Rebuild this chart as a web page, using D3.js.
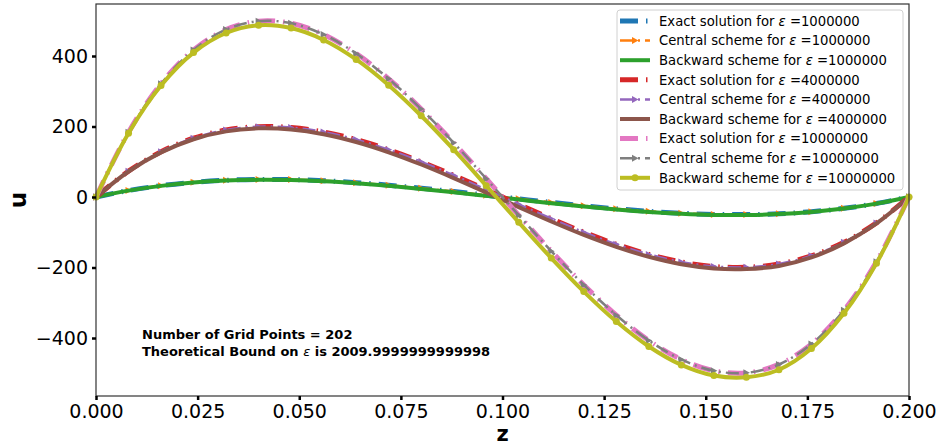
<!DOCTYPE html>
<html>
<head>
<meta charset="utf-8">
<script src="https://cdn.jsdelivr.net/npm/d3@7"></script>
<style>
  body { margin: 0; background: #fff; }
  svg { display: block; font-family: "DejaVu Sans", sans-serif; }
</style>
</head>
<body>
<svg id="chart" width="941" height="445"></svg>
<script>
// ---- data ----
const zGrid = [0, 0.008, 0.016, 0.024, 0.032, 0.040, 0.048, 0.056, 0.064, 0.072, 0.080, 0.088, 0.096,
               0.104, 0.112, 0.120, 0.128, 0.136, 0.144, 0.152, 0.160, 0.168, 0.176, 0.184, 0.192, 0.200];

const exact1e6 = [0, 18.4, 32.1, 41.7, 47.5, 49.9, 49.3, 46.1, 40.7, 33.5, 24.9, 15.4, 5.2,
                  -5.2, -15.4, -24.9, -33.5, -40.7, -46.1, -49.3, -49.9, -47.5, -41.7, -32.1, -18.4, 0];
const central1e6 = [0, 18.4, 32.1, 41.7, 47.5, 49.9, 49.3, 46.1, 40.7, 33.5, 24.9, 15.4, 5.2,
                    -5.2, -15.4, -24.9, -33.5, -40.7, -46.1, -49.3, -49.9, -47.5, -41.7, -32.1, -18.4, 0];
const backward1e6 = [0, 18.1, 31.6, 41.0, 46.5, 48.7, 47.9, 44.6, 39.0, 31.7, 23.0, 13.4, 3.2,
                     -7.2, -17.4, -26.8, -35.3, -42.4, -47.6, -50.7, -51.1, -48.5, -42.4, -32.6, -18.7, 0];

const exact4e6 = [0, 73.4, 128.5, 166.8, 190.0, 199.5, 197.1, 184.4, 162.8, 134.1, 99.8, 61.5, 20.8,
                  -20.8, -61.5, -99.8, -134.1, -162.8, -184.4, -197.1, -199.5, -190.0, -166.8, -128.5, -73.4, 0];
const central4e6 = [0, 73.4, 128.5, 166.8, 190.0, 199.5, 197.1, 184.4, 162.8, 134.1, 99.8, 61.5, 20.8,
                    -20.8, -61.5, -99.8, -134.1, -162.8, -184.4, -197.1, -199.5, -190.0, -166.8, -128.5, -73.4, 0];
const backward4e6 = [0, 72.4, 126.5, 163.9, 186.1, 194.8, 191.6, 178.2, 156.0, 126.9, 92.2, 53.6, 12.8,
                     -28.8, -69.4, -107.4, -141.3, -169.6, -190.6, -202.6, -204.2, -195.5, -171.5, -131.5, -75.0, 0];

const exact1e7 = [0, 183.6, 321.3, 417.0, 474.9, 498.9, 492.9, 460.9, 407.1, 335.2, 249.4, 153.7, 51.9,
                  -51.9, -153.7, -249.4, -335.2, -407.1, -460.9, -492.9, -498.9, -474.9, -417.0, -321.3, -183.6, 0];
const central1e7 = [0, 183.6, 321.3, 417.0, 474.9, 498.9, 492.9, 460.9, 407.1, 335.2, 249.4, 153.7, 51.9,
                    -51.9, -153.7, -249.4, -335.2, -407.1, -460.9, -492.9, -498.9, -474.9, -417.0, -321.3, -183.6, 0];
const backward1e7 = [0, 181.1, 316.3, 409.6, 465.3, 487.1, 479.2, 445.5, 390.2, 317.1, 230.4, 134.1, 31.9,
                     -71.9, -173.3, -268.4, -353.3, -424.0, -476.3, -506.6, -511.5, -490.0, -430.0, -330.0, -188.0, 0];

const epsilons = ["1000000", "4000000", "10000000"];
const xTicks = [0, 0.025, 0.05, 0.075, 0.1, 0.125, 0.15, 0.175, 0.2];
const yTicks = [-400, -200, 0, 200, 400];
const annotationLines = ["Number of Grid Points = 202", "Theoretical Bound on ", " is 2009.9999999999998"];

// ---- series table ----
const palette = ["#1f77b4", "#ff7f0e", "#2ca02c", "#d62728", "#9467bd", "#8c564b", "#e377c2", "#7f7f7f", "#bcbd22"];
const groups = [[exact1e6, central1e6, backward1e6], [exact4e6, central4e6, backward4e6], [exact1e7, central1e7, backward1e7]];
const kinds = ["exact", "central", "backward"];
const kindLabel = { exact: "Exact solution for ", central: "Central scheme for ", backward: "Backward scheme for " };
const series = [];
groups.forEach((g, gi) => g.forEach((vals, ki) => {
  series.push({ kind: kinds[ki], eps: epsilons[gi], values: vals, color: palette[gi * 3 + ki],
                dots: (ki === 2 && gi === 2) });
}));

// ---- layout ----
const svg = d3.select("#chart");
const L = 96, R = 909, T = 4, B = 396;
const x = d3.scaleLinear().domain([0, 0.2]).range([L, R]);
const y = d3.scaleLinear().domain([-564.5, 547.5]).range([B, T]);

const styles = {
  exact:    { w: 5,   dash: "18,8,1.5,8" },
  central:  { w: 2.5, dash: "13,5,2,5" },
  backward: { w: 4,   dash: null }
};

const line = d3.line().x((d, i) => x(zGrid[i])).y(d => y(d)).curve(d3.curveCatmullRom.alpha(0.5));
const plot = svg.append("g");
const triPath = "M-3,-3.5 L3.5,0 L-3,3.5 Z";

series.forEach(s => {
  const st = styles[s.kind];
  plot.append("path").attr("d", line(s.values)).attr("fill", "none")
    .attr("stroke", s.color).attr("stroke-width", st.w)
    .attr("stroke-dasharray", st.dash).attr("stroke-linejoin", "round");
  if (s.kind === "central") {
    plot.selectAll(null).data(s.values).enter().append("path")
      .attr("d", triPath).attr("fill", s.color)
      .attr("transform", (d, i) => `translate(${x(zGrid[i])},${y(d)})`);
  }
  if (s.dots) {
    plot.selectAll(null).data(s.values).enter().append("circle")
      .attr("cx", (d, i) => x(zGrid[i])).attr("cy", d => y(d)).attr("r", 3.5).attr("fill", s.color);
  }
});

// ---- axes frame ----
svg.append("rect").attr("x", L).attr("y", T).attr("width", R - L).attr("height", B - T)
  .attr("fill", "none").attr("stroke", "#333").attr("stroke-width", 1.2);

const xAxis = svg.append("g").attr("transform", `translate(0,${B})`)
  .call(d3.axisBottom(x).tickValues(xTicks).tickFormat(d3.format(".3f")).tickSize(4).tickPadding(5));
const yAxis = svg.append("g").attr("transform", `translate(${L},0)`)
  .call(d3.axisLeft(y).tickValues(yTicks).tickFormat(d => d < 0 ? "\u2212" + Math.abs(d) : d).tickSize(4).tickPadding(4));
[xAxis, yAxis].forEach(a => {
  a.select(".domain").remove();
  a.selectAll(".tick line").attr("stroke", "#000").attr("stroke-width", 2.5);
  a.selectAll(".tick text").attr("font-family", "DejaVu Sans").attr("font-size", 19).attr("fill", "#000");
});

svg.append("text").attr("x", x(0.1)).attr("y", 441).attr("text-anchor", "middle")
  .attr("font-size", 21).attr("font-weight", "bold").text("z");
svg.append("text").attr("transform", "translate(26,200) rotate(-90)").attr("text-anchor", "middle")
  .attr("font-size", 23).attr("font-weight", "bold").text("u");

// ---- annotation ----
const ann = svg.append("g").attr("font-size", 13).attr("font-weight", "bold");
ann.append("text").attr("x", 142).attr("y", 338.5).text(annotationLines[0]);
const t2 = ann.append("text").attr("x", 142).attr("y", 356);
t2.append("tspan").text(annotationLines[1]);
t2.append("tspan").attr("font-style", "italic").attr("font-weight", "normal").text("\u03b5");
t2.append("tspan").text(annotationLines[2]);

// ---- legend ----
const leg = svg.append("g");
leg.append("rect").attr("x", 617).attr("y", 10).attr("width", 286).attr("height", 180).attr("rx", 3)
  .attr("fill", "#fff").attr("fill-opacity", 0.8).attr("stroke", "#d0d0d0").attr("stroke-width", 1);
series.forEach((s, i) => {
  const cy = 21 + i * 19.6;
  const st = styles[s.kind];
  leg.append("line").attr("x1", 620).attr("x2", 650).attr("y1", cy).attr("y2", cy)
    .attr("stroke", s.color).attr("stroke-width", st.w).attr("stroke-dasharray", st.dash);
  if (s.kind === "central") {
    leg.append("path").attr("d", triPath).attr("fill", s.color).attr("transform", `translate(635,${cy})`);
  }
  if (s.dots) {
    leg.append("circle").attr("cx", 635).attr("cy", cy).attr("r", 3.5).attr("fill", s.color);
  }
  const t = leg.append("text").attr("x", 659).attr("y", cy + 4.7).attr("font-size", 13.2).attr("fill", "#000");
  t.append("tspan").text(kindLabel[s.kind]);
  t.append("tspan").attr("font-style", "italic").text("\u03b5");
  t.append("tspan").text(" =" + s.eps);
});
</script>
</body>
</html>
